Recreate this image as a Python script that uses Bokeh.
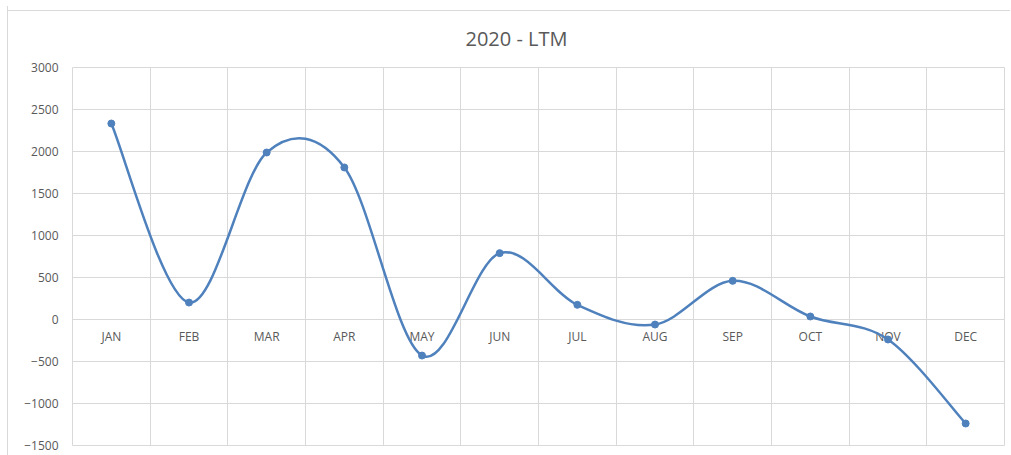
from bokeh.plotting import figure
from bokeh.models import Range1d, FixedTicker, ColumnDataSource
from bokeh.core.properties import value
from bokeh.embed import file_html
from bokeh.resources import INLINE

# Monthly values, last twelve months of 2020
months = ["JAN", "FEB", "MAR", "APR", "MAY", "JUN", "JUL", "AUG", "SEP", "OCT", "NOV", "DEC"]
values = [2333, 202, 1988, 1810, -429, 790, 175, -60, 460, 36, -238, -1238]
y_ticks = [-1500, -1000, -500, 0, 500, 1000, 1500, 2000, 2500, 3000]
title_text = "2020 - LTM"

FONT = "Open Sans"
TEXT_COLOR = "#595959"
GRID_COLOR = "#d9d9d9"
LINE_COLOR = "#4f81bd"

n = len(months)
xs = [i + 0.5 for i in range(n)]

p = figure(
    width=1003, height=449,
    x_range=Range1d(0, n), y_range=Range1d(y_ticks[0], y_ticks[-1]),
    output_backend="svg", toolbar_location=None,
    min_border_left=64, min_border_top=61, min_border_right=7, min_border_bottom=10,
    title=title_text,
)
p.margin = (6, 0, 0, 7)
# light chart-area border: left edge plus a top rule a few pixels down
p.styles = {
    "border-left": "1px solid #d9d9d9",
    "background": "linear-gradient(#d9d9d9, #d9d9d9) 0 4px / 100% 1px no-repeat, white",
}
p.background_fill_color = "white"
p.border_fill_color = None
p.outline_line_color = GRID_COLOR

# title centred on the whole chart area rather than the plot frame
p.title.align = "left"
p.title.offset = 393
p.title.text_font = FONT
p.title.text_font_size = "20px"
p.title.text_font_style = "normal"
p.title.text_color = TEXT_COLOR
p.title.standoff = 31

# category axis is replaced by labels sitting just under the zero line
p.xaxis.visible = False
p.xgrid.ticker = FixedTicker(ticks=list(range(n + 1)))
p.xgrid.grid_line_color = GRID_COLOR

p.yaxis.ticker = FixedTicker(ticks=y_ticks)
p.yaxis.axis_line_color = None
p.yaxis.major_tick_line_color = None
p.yaxis.minor_tick_line_color = None
p.yaxis.major_label_text_font = FONT
p.yaxis.major_label_text_font_size = "12px"
p.yaxis.major_label_text_color = TEXT_COLOR
p.yaxis.major_label_standoff = 8
p.ygrid.grid_line_color = GRID_COLOR

p.text(x=xs, y=[0] * n, text=months, text_font=value(FONT), text_font_size="12px",
       text_color=TEXT_COLOR, text_align="center", text_baseline="middle", y_offset=17)

# smoothed line: cubic Bezier segments with Catmull-Rom style control points
ext_x = [xs[0]] + xs + [xs[-1]]
ext_y = [values[0]] + values + [values[-1]]
seg = dict(x0=[], y0=[], x1=[], y1=[], cx0=[], cy0=[], cx1=[], cy1=[])
for i in range(n - 1):
    seg["x0"].append(xs[i]); seg["y0"].append(values[i])
    seg["x1"].append(xs[i + 1]); seg["y1"].append(values[i + 1])
    seg["cx0"].append(xs[i] + (ext_x[i + 2] - ext_x[i]) / 6)
    seg["cy0"].append(values[i] + (ext_y[i + 2] - ext_y[i]) / 6)
    seg["cx1"].append(xs[i + 1] - (ext_x[i + 3] - ext_x[i + 1]) / 6)
    seg["cy1"].append(values[i + 1] - (ext_y[i + 3] - ext_y[i + 1]) / 6)
p.bezier(x0="x0", y0="y0", x1="x1", y1="y1", cx0="cx0", cy0="cy0", cx1="cx1", cy1="cy1",
         source=ColumnDataSource(seg), line_color=LINE_COLOR, line_width=2.5)

p.scatter(x=xs, y=values, size=7, fill_color=LINE_COLOR, line_color=LINE_COLOR)

open("out.html", "w").write(file_html(p, INLINE))
